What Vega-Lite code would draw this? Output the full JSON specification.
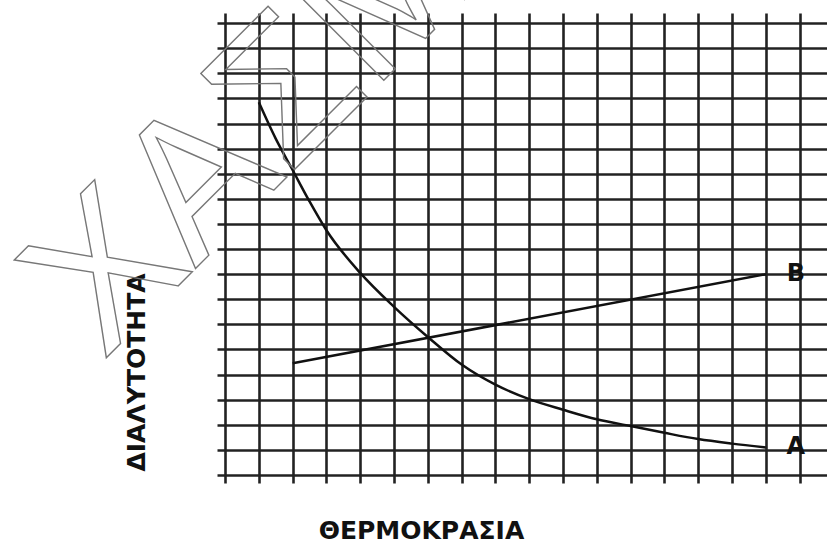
{
  "$schema": "https://vega.github.io/schema/vega-lite/v6.json",
  "width": 610,
  "height": 470,
  "autosize": {"type": "none"},
  "padding": {"left": 217, "top": 13, "right": 0, "bottom": 60},
  "background": "white",
  "config": {"view": {"stroke": null}},
  "datasets": {
    "curves": [
      {"series": "A", "x": 1, "y": 14.85},
      {"series": "A", "x": 1.5, "y": 13.4},
      {"series": "A", "x": 2, "y": 12.15},
      {"series": "A", "x": 2.5, "y": 10.9},
      {"series": "A", "x": 3, "y": 9.75},
      {"series": "A", "x": 4, "y": 8.05},
      {"series": "A", "x": 5, "y": 6.7},
      {"series": "A", "x": 6, "y": 5.5},
      {"series": "A", "x": 7, "y": 4.4},
      {"series": "A", "x": 8, "y": 3.6},
      {"series": "A", "x": 9, "y": 3.02},
      {"series": "A", "x": 10, "y": 2.6},
      {"series": "A", "x": 11, "y": 2.22},
      {"series": "A", "x": 12, "y": 1.95},
      {"series": "A", "x": 13, "y": 1.68},
      {"series": "A", "x": 14, "y": 1.43},
      {"series": "A", "x": 15, "y": 1.25},
      {"series": "A", "x": 16, "y": 1.1},
      {"series": "B", "x": 2, "y": 4.45},
      {"series": "B", "x": 16, "y": 8}
    ],
    "labels": [
      {"label": "A", "x": 16, "y": 1.1},
      {"label": "B", "x": 16, "y": 8}
    ],
    "watermark": [
      {"text": "ΧΑΣΜΑ"}
    ]
  },
  "layer": [
    {
      "data": {"name": "curves"},
      "mark": {"type": "line", "interpolate": "monotone", "color": "#111111", "strokeWidth": 2.5},
      "encoding": {
        "x": {
          "field": "x", "type": "quantitative",
          "scale": {"domain": [-0.237, 17.81], "nice": false, "zero": false},
          "axis": {
            "values": [0,1,2,3,4,5,6,7,8,9,10,11,12,13,14,15,16,17],
            "tickCount": 40,
            "grid": true, "gridColor": "#222222", "gridWidth": 2.6,
            "domain": false, "ticks": false, "labels": false,
            "title": "ΘΕΡΜΟΚΡΑΣΙΑ",
            "titleFont": "DejaVu Sans", "titleFontSize": 25, "titleFontWeight": "bold",
            "titleColor": "#111111",
            "titleX": 204, "titleY": 55, "titleAlign": "center", "titleBaseline": "alphabetic"
          }
        },
        "y": {
          "field": "y", "type": "quantitative",
          "scale": {"domain": [-0.319, 18.406], "nice": false, "zero": false},
          "axis": {
            "values": [0,1,2,3,4,5,6,7,8,9,10,11,12,13,14,15,16,17,18],
            "tickCount": 40,
            "grid": true, "gridColor": "#222222", "gridWidth": 2.6,
            "domain": false, "ticks": false, "labels": false,
            "title": "ΔΙΑΛΥΤΟΤΗΤΑ",
            "titleFont": "DejaVu Sans", "titleFontSize": 25, "titleFontWeight": "bold",
            "titleColor": "#111111",
            "titleX": -73, "titleY": 359, "titleAlign": "center", "titleBaseline": "alphabetic"
          }
        },
        "detail": {"field": "series", "type": "nominal"}
      }
    },
    {
      "data": {"name": "labels"},
      "mark": {"type": "text", "font": "DejaVu Sans", "fontSize": 24, "fontWeight": "bold", "color": "#111111", "dx": 30, "align": "center", "baseline": "middle"},
      "encoding": {
        "x": {"field": "x", "type": "quantitative"},
        "y": {"field": "y", "type": "quantitative"},
        "text": {"field": "label"}
      }
    },
    {
      "data": {"name": "watermark"},
      "mark": {"type": "text", "font": "Liberation Sans", "fontSize": 195, "fill": null, "fillOpacity": 0, "stroke": "#777777", "strokeWidth": 1.4, "angle": -45, "align": "left", "baseline": "alphabetic"},
      "encoding": {
        "x": {"datum": -3.6},
        "y": {"datum": 4.55},
        "text": {"field": "text"}
      }
    }
  ]
}
